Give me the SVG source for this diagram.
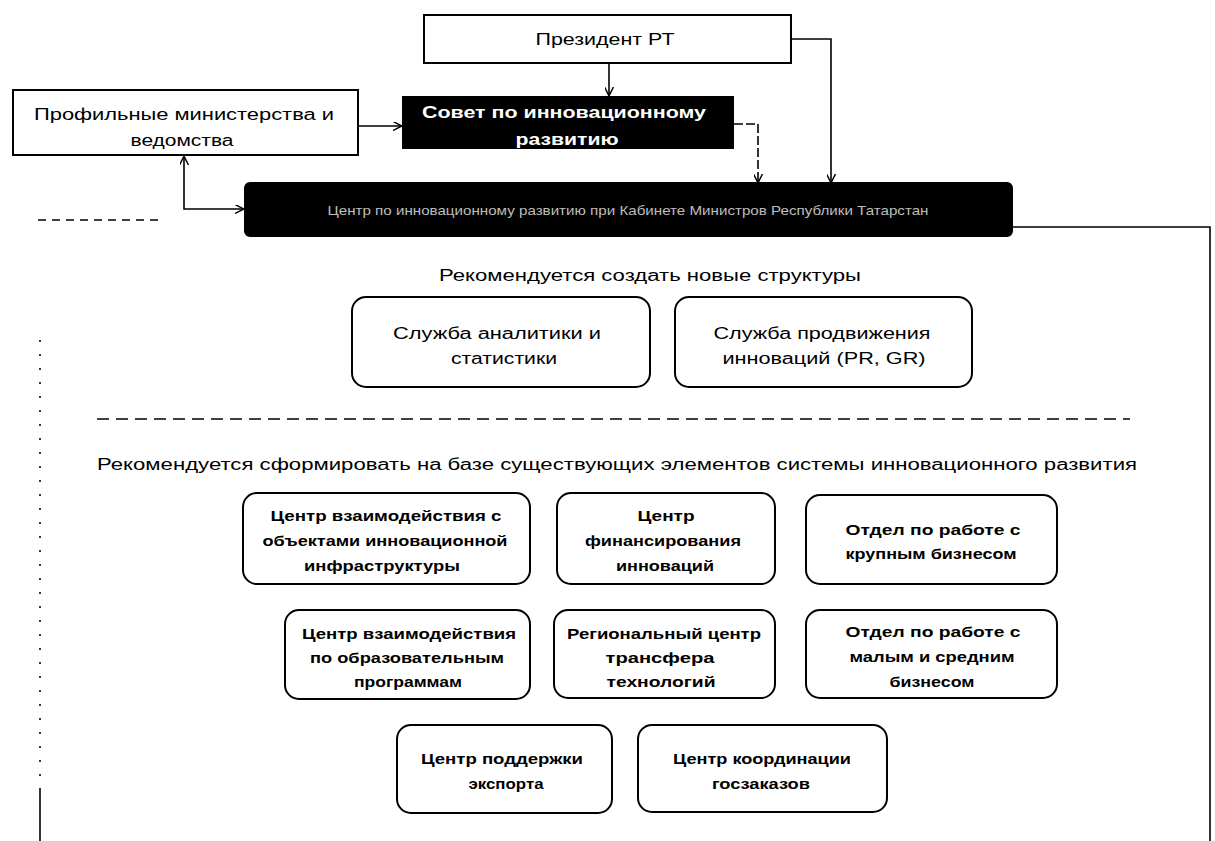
<svg xmlns="http://www.w3.org/2000/svg" width="1215" height="841" viewBox="0 0 1215 841">
<style>
.box{fill:#fff;stroke:#000;stroke-width:2}
.dark{fill:#000;stroke:#000;stroke-width:2}
.rbox{fill:#fff;stroke:#000;stroke-width:2}
.t{font-family:"Liberation Sans","DejaVu Sans",sans-serif;font-size:16px;fill:#000;text-anchor:middle}
.tb{font-family:"Liberation Sans","DejaVu Sans",sans-serif;font-size:15px;font-weight:bold;fill:#000;text-anchor:middle}
.tw{font-family:"Liberation Sans","DejaVu Sans",sans-serif;font-size:16px;font-weight:bold;fill:#fff;text-anchor:middle}
.tg{font-family:"Liberation Sans","DejaVu Sans",sans-serif;font-size:13px;fill:#bdbdbd;text-anchor:middle}
.c{fill:none;stroke:#000;stroke-width:1.6}
</style>
<defs>
<marker id="ah" viewBox="0 0 10 10" refX="9" refY="5" markerWidth="9" markerHeight="9" orient="auto-start-reverse" markerUnits="userSpaceOnUse">
<path d="M0,0 L10,5 L0,10" fill="none" stroke="#000" stroke-width="1.6"/>
</marker>
</defs>
<rect width="1215" height="841" fill="#fff"/>

<g id="connectors">
<line class="c" x1="609" y1="64" x2="609" y2="95" marker-end="url(#ah)"/>
<line class="c" x1="359" y1="126" x2="401" y2="126" marker-end="url(#ah)"/>
<polyline class="c" points="734,124 758,124 758,182" stroke-dasharray="9 3" marker-end="url(#ah)"/>
<polyline class="c" points="792,39 831,39 831,182" marker-end="url(#ah)"/>
<polyline class="c" points="184,157 184,209 243,209" marker-start="url(#ah)" marker-end="url(#ah)"/>
<polyline class="c" points="1013,227 1210,227 1210,841"/>
<line class="c" x1="38" y1="220" x2="158" y2="220" stroke-dasharray="8 6"/>
<line class="c" x1="40" y1="340" x2="40" y2="790" stroke-dasharray="2 12"/>
<line class="c" x1="40" y1="790" x2="40" y2="841"/>
<line class="c" x1="97" y1="419" x2="1130" y2="419" stroke-width="2" stroke-dasharray="12 7"/>
</g>

<g id="president">
<rect class="box" x="424" y="15" width="367" height="48"/>
<text class="t" x="605" y="45" textLength="139" lengthAdjust="spacingAndGlyphs">Президент РТ</text>
</g>

<g id="ministries">
<rect class="box" x="13" y="90" width="345" height="65"/>
<text class="t" x="184" y="120" textLength="300" lengthAdjust="spacingAndGlyphs">Профильные министерства и</text>
<text class="t" x="182" y="146" textLength="103" lengthAdjust="spacingAndGlyphs">ведомства</text>
</g>

<g id="council">
<rect class="dark" x="403" y="97" width="330" height="51"/>
<text class="tw" x="564" y="118" textLength="284" lengthAdjust="spacingAndGlyphs">Совет по инновационному</text>
<text class="tw" x="567" y="145" textLength="103" lengthAdjust="spacingAndGlyphs">развитию</text>
</g>

<g id="center">
<rect class="dark" x="245" y="183" width="767" height="53" rx="5"/>
<text class="tg" x="628" y="215" textLength="601" lengthAdjust="spacingAndGlyphs">Центр по инновационному развитию при Кабинете Министров Республики Татарстан</text>
</g>

<g id="label-new">
<text class="t" x="650" y="281" textLength="422" lengthAdjust="spacingAndGlyphs">Рекомендуется создать новые структуры</text>
</g>

<g id="analytics">
<rect class="rbox" x="352" y="297" width="298" height="90" rx="14"/>
<text class="t" x="497" y="339" textLength="208" lengthAdjust="spacingAndGlyphs">Служба аналитики и</text>
<text class="t" x="504" y="364" textLength="106" lengthAdjust="spacingAndGlyphs">статистики</text>
</g>

<g id="promotion">
<rect class="rbox" x="675" y="297" width="297" height="90" rx="14"/>
<text class="t" x="822" y="339" textLength="217" lengthAdjust="spacingAndGlyphs">Служба продвижения</text>
<text class="t" x="824" y="364" textLength="203" lengthAdjust="spacingAndGlyphs">инноваций (PR, GR)</text>
</g>

<g id="label-existing">
<text class="t" x="617" y="470" textLength="1040" lengthAdjust="spacingAndGlyphs">Рекомендуется сформировать на базе существующих элементов системы инновационного развития</text>
</g>

<g id="infra">
<rect class="rbox" x="243" y="493" width="287" height="91" rx="14"/>
<text class="tb" x="386" y="521" textLength="231" lengthAdjust="spacingAndGlyphs">Центр взаимодействия с</text>
<text class="tb" x="385" y="546" textLength="245" lengthAdjust="spacingAndGlyphs">объектами инновационной</text>
<text class="tb" x="382" y="571" textLength="156" lengthAdjust="spacingAndGlyphs">инфраструктуры</text>
</g>

<g id="finance">
<rect class="rbox" x="557" y="493" width="218" height="91" rx="14"/>
<text class="tb" x="666" y="521" textLength="57" lengthAdjust="spacingAndGlyphs">Центр</text>
<text class="tb" x="663" y="546" textLength="156" lengthAdjust="spacingAndGlyphs">финансирования</text>
<text class="tb" x="665" y="571" textLength="98" lengthAdjust="spacingAndGlyphs">инноваций</text>
</g>

<g id="bigbiz">
<rect class="rbox" x="806" y="495" width="251" height="89" rx="14"/>
<text class="tb" x="933" y="535" textLength="175" lengthAdjust="spacingAndGlyphs">Отдел по работе с</text>
<text class="tb" x="931" y="559" textLength="171" lengthAdjust="spacingAndGlyphs">крупным бизнесом</text>
</g>

<g id="education">
<rect class="rbox" x="285" y="610" width="245" height="89" rx="14"/>
<text class="tb" x="409" y="639" textLength="214" lengthAdjust="spacingAndGlyphs">Центр взаимодействия</text>
<text class="tb" x="407" y="663" textLength="194" lengthAdjust="spacingAndGlyphs">по образовательным</text>
<text class="tb" x="408" y="687" textLength="108" lengthAdjust="spacingAndGlyphs">программам</text>
</g>

<g id="transfer">
<rect class="rbox" x="554" y="610" width="221" height="88" rx="14"/>
<text class="tb" x="664" y="639" textLength="194" lengthAdjust="spacingAndGlyphs">Региональный центр</text>
<text class="tb" x="660" y="663" textLength="109" lengthAdjust="spacingAndGlyphs">трансфера</text>
<text class="tb" x="661" y="687" textLength="109" lengthAdjust="spacingAndGlyphs">технологий</text>
</g>

<g id="smallbiz">
<rect class="rbox" x="806" y="610" width="251" height="88" rx="14"/>
<text class="tb" x="933" y="637" textLength="175" lengthAdjust="spacingAndGlyphs">Отдел по работе с</text>
<text class="tb" x="932" y="662" textLength="165" lengthAdjust="spacingAndGlyphs">малым и средним</text>
<text class="tb" x="932" y="687" textLength="85" lengthAdjust="spacingAndGlyphs">бизнесом</text>
</g>

<g id="export">
<rect class="rbox" x="397" y="725" width="215" height="88" rx="14"/>
<text class="tb" x="502" y="764" textLength="162" lengthAdjust="spacingAndGlyphs">Центр поддержки</text>
<text class="tb" x="506" y="789" textLength="75" lengthAdjust="spacingAndGlyphs">экспорта</text>
</g>

<g id="procurement">
<rect class="rbox" x="638" y="725" width="249" height="87" rx="14"/>
<text class="tb" x="762" y="764" textLength="178" lengthAdjust="spacingAndGlyphs">Центр координации</text>
<text class="tb" x="761" y="789" textLength="98" lengthAdjust="spacingAndGlyphs">госзаказов</text>
</g>
</svg>
